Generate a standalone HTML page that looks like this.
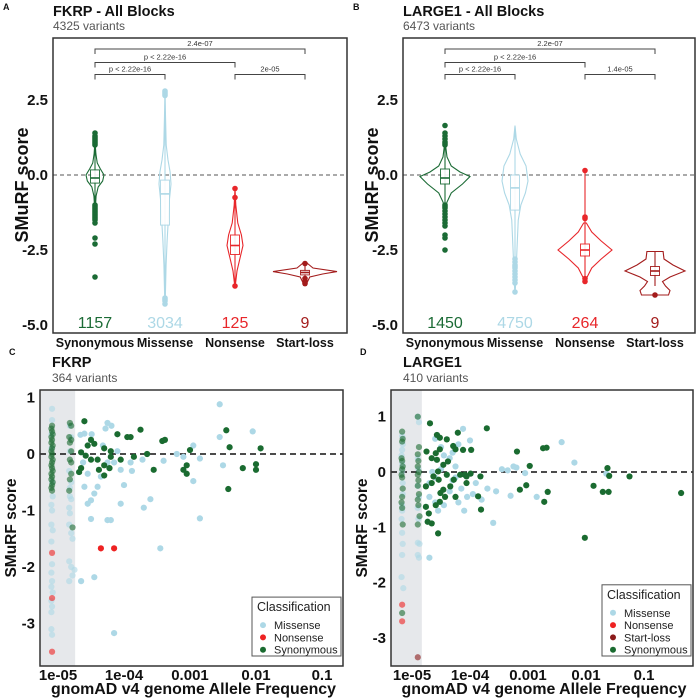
<!DOCTYPE html>
<html><head><meta charset="utf-8"><style>
html,body{margin:0;padding:0;background:#fff;}
svg{display:block;font-family:"Liberation Sans",sans-serif;}
</style></head><body>
<svg id="fig" width="697" height="700" viewBox="0 0 697 700" xmlns="http://www.w3.org/2000/svg"></svg>
<script>
// ---------- DATA ----------
const categories = ["Synonymous","Missense","Nonsense","Start-loss"];
const catColors = ["#1b6b35","#add8e6","#e8262a","#a31c1c"];
const yTicksViolin = [2.5, 0.0, -2.5, -5.0];
const yTickLabelsViolin = ["2.5","0.0","-2.5","-5.0"];
const countsA = [1157, 3034, 125, 9];
const countsB = [1450, 4750, 264, 9];
const bracketPairs = [[0,3],[0,2],[0,1],[2,3]];
const bracketLevels = [4.2, 3.75, 3.35, 3.35];
const bracketLabelsA = ["2.4e-07","p < 2.22e-16","p < 2.22e-16","2e-05"];
const bracketLabelsB = ["2.2e-07","p < 2.22e-16","p < 2.22e-16","1.4e-05"];
// violin density profiles [score, relative density]
const violinA = [
 [[1.0,0.03],[0.7,0.1],[0.4,0.25],[0.2,0.6],[0.0,1],[-0.2,0.85],[-0.4,0.35],[-0.7,0.12],[-1.15,0.03]],
 [[2.8,0],[2.0,0.08],[1.0,0.2],[0.5,0.5],[0.1,0.85],[-0.3,1],[-0.8,0.75],[-1.5,0.55],[-2.2,0.35],[-3.0,0.18],[-4.3,0.03]],
 [[-0.45,0],[-1.0,0.1],[-1.6,0.35],[-2.0,0.8],[-2.35,1],[-2.8,0.6],[-3.2,0.25],[-3.7,0.03]],
 [[-2.95,0.08],[-3.1,0.25],[-3.22,1],[-3.3,0.55],[-3.4,0.15],[-3.6,0.06]]
];
const violinMaxA = [9, 6, 8, 32];
const violinB = [
 [[1.0,0.02],[0.6,0.08],[0.3,0.25],[0.1,0.6],[-0.05,1],[-0.3,0.7],[-0.6,0.25],[-0.9,0.08],[-1.1,0.02]],
 [[1.65,0],[1.2,0.1],[0.7,0.4],[0.3,0.85],[-0.2,1],[-0.6,0.8],[-1.0,0.45],[-1.5,0.25],[-2.0,0.2],[-2.5,0.15],[-3.0,0.1],[-3.9,0.02]],
 [[-1.6,0.05],[-1.9,0.25],[-2.2,0.6],[-2.5,1],[-2.8,0.6],[-3.1,0.25],[-3.4,0.08],[-3.55,0.02]],
 [[-2.55,0.27],[-2.8,0.3],[-3.0,0.6],[-3.2,1],[-3.4,0.5],[-3.55,0.25],[-3.7,0.35],[-3.85,0.5],[-4.0,0.45]]
];
const violinMaxB = [25, 13, 27, 30];
// box stats [q1, median, q3, whiskerLow, whiskerHigh]
const boxA = [[-0.27,-0.1,0.17,-1.0,0.95],[-1.67,-0.63,-0.17,-4.1,2.6],[-2.65,-2.35,-2.0,-3.6,-0.8],[-3.33,-3.25,-3.18,-3.45,-2.95]];
const boxB = [[-0.3,-0.1,0.2,-1.0,1.0],[-1.17,-0.43,0.0,-2.8,1.6],[-2.7,-2.5,-2.3,-3.45,0.15],[-3.35,-3.2,-3.05,-3.7,-2.55]];
const outliersA = [
 [1.0,1.05,1.1,1.15,1.2,1.25,1.3,1.4,-1.0,-1.05,-1.1,-1.15,-1.2,-1.25,-1.3,-1.35,-1.4,-1.45,-1.5,-1.6,-2.1,-2.3,-3.4],
 [2.65,2.7,2.75,2.8,-4.1,-4.15,-4.2,-4.3],
 [-0.45,-0.75,-3.7],
 [-2.95,-3.45,-3.55,-3.62]
];
const outliersB = [
 [1.0,1.05,1.1,1.2,1.3,1.4,1.65,-1.0,-1.05,-1.1,-1.2,-1.3,-1.4,-1.5,-1.6,-1.7,-2.0,-2.1,-2.5],
 [-2.8,-2.9,-3.0,-3.05,-3.1,-3.2,-3.3,-3.4,-3.5,-3.6,-3.9],
 [0.15,-1.4,-1.45,-3.45,-3.55],
 [-4.0]
];
// scatter data: [log10 allele frequency, SMuRF score]
const missenseC = [[-2.55,0.88],[-4.66,0.34],[-4.6,0.36],[-4.49,0.35],[-4.28,0.45],[-4.19,0.5],[-4.32,0.15],[-4.1,0.05],[-4.62,-0.15],[-4.55,-0.35],[-4.6,-0.58],[-4.4,-0.58],[-4.45,-0.7],[-4.5,-0.82],[-4.55,-0.88],[-4.25,-0.15],[-4.15,-0.15],[-4.35,-0.4],[-4.05,-0.28],[-4.0,-0.55],[-4.05,-0.88],[-4.25,-1.17],[-4.2,-1.17],[-4.5,-1.15],[-3.9,-0.15],[-3.88,-0.3],[-3.72,-0.1],[-3.7,-0.95],[-3.6,-0.8],[-3.45,-1.67],[-3.4,-0.12],[-3.1,-0.05],[-3.2,0.0],[-2.85,-0.08],[-2.95,-0.48],[-2.85,-1.14],[-2.95,0.15],[-2.55,0.3],[-2.5,-0.2],[-2.05,0.4],[-4.75,-2.05],[-4.65,-2.25],[-4.45,-2.18],[-4.15,-3.17],[-4.25,0.55],
 [-5.09,0.8],[-5.09,0.6],[-5.1,0.35],[-5.08,-0.75],[-5.1,-0.9],[-5.09,-1.0],[-5.1,-1.25],[-5.08,-1.35],[-5.1,-1.55],[-5.09,-1.95],[-5.1,-2.1],[-5.09,-2.25],[-5.1,-2.35],[-5.08,-2.45],[-5.1,-2.6],[-5.09,-2.7],[-5.1,-2.8],[-5.1,-3.1],[-5.09,-3.2],[-5.1,0.1],[-5.09,-0.5],
 [-4.82,0.5],[-4.8,0.3],[-4.82,0.05],[-4.83,-0.3],[-4.8,-0.5],[-4.82,-0.75],[-4.8,-0.8],[-4.83,-0.95],[-4.82,-1.05],[-4.83,-1.25],[-4.8,-1.4],[-4.78,-1.5],[-4.8,-2.0],[-4.78,-2.15],[-4.83,-2.25],[-4.82,-0.6],[-4.83,-1.9]];
const nonsenseC = [[-4.35,-1.67],[-4.15,-1.67],[-5.09,-1.75],[-5.09,-2.55],[-5.09,-3.5]];
const synonymousC = [[-4.6,0.58],[-4.5,0.25],[-4.45,0.18],[-4.55,0.15],[-4.65,0.03],[-4.58,-0.03],[-4.5,-0.1],[-4.68,-0.32],[-4.65,-0.25],[-4.3,0.1],[-4.2,0.05],[-4.4,-0.1],[-4.38,-0.28],[-4.3,-0.2],[-4.3,-0.38],[-4.22,-0.25],[-4.2,-0.05],[-4.1,0.35],[-4.05,-0.1],[-3.9,0.3],[-3.95,0.3],[-3.85,-0.05],[-3.75,0.43],[-3.65,0.0],[-3.55,-0.28],[-3.42,0.23],[-3.38,0.25],[-3.1,-0.28],[-3.05,-0.2],[-3.05,-0.35],[-3.0,0.07],[-2.45,0.42],[-2.4,0.12],[-2.42,-0.62],[-2.2,-0.25],[-2.0,-0.18],[-2.0,-0.28],[-1.93,0.1],
 [-5.09,0.5],[-5.1,0.45],[-5.09,0.4],[-5.08,0.35],[-5.1,0.3],[-5.09,0.25],[-5.1,0.2],[-5.08,0.15],[-5.09,0.1],[-5.1,0.05],[-5.09,0.0],[-5.1,-0.05],[-5.08,-0.1],[-5.09,-0.15],[-5.1,-0.2],[-5.09,-0.25],[-5.08,-0.3],[-5.1,-0.35],[-5.09,-0.4],[-5.1,-0.45],[-5.08,-0.5],[-5.09,-0.55],[-5.1,-0.6],[-5.09,-0.65],
 [-4.82,0.55],[-4.8,0.5],[-4.83,0.3],[-4.8,0.25],[-4.82,0.2],[-4.8,0.05],[-4.82,-0.1],[-4.8,-0.35],[-4.82,-0.45],[-4.83,-0.65],[-4.78,-1.3],[-4.8,-0.15]];
const missenseD = [[-4.6,0.6],[-4.5,0.45],[-4.45,0.3],[-4.35,0.25],[-4.3,0.35],[-4.2,0.5],[-4.12,0.78],[-4.0,0.57],[-4.5,0.05],[-4.6,-0.1],[-4.7,-0.2],[-4.7,-0.45],[-4.6,-0.55],[-4.55,-0.7],[-4.45,-0.6],[-4.35,-0.35],[-4.3,-0.15],[-4.2,-0.55],[-4.1,-0.7],[-4.25,-0.1],[-4.15,-0.3],[-4.05,-0.45],[-3.95,-0.4],[-3.9,-0.2],[-3.8,-0.5],[-3.7,-0.3],[-3.6,-0.92],[-3.55,-0.35],[-3.45,0.05],[-3.3,-0.43],[-3.35,0.03],[-3.25,0.1],[-3.2,0.08],[-3.05,-0.02],[-2.85,-0.45],[-2.42,0.54],[-2.2,0.17],[-1.65,-0.03],[-4.7,-1.55],[-4.65,0.0],[-4.25,0.1],
 [-5.17,0.65],[-5.16,0.5],[-5.17,0.4],[-5.18,0.3],[-5.17,0.0],[-5.16,-0.2],[-5.17,-0.6],[-5.18,-0.85],[-5.17,-1.1],[-5.16,-1.3],[-5.17,-1.5],[-5.18,-1.9],[-5.15,-2.1],[-5.17,0.15],[-5.16,-0.4],[-5.17,-0.7],
 [-4.9,1.0],[-4.88,0.9],[-4.9,0.25],[-4.89,0.05],[-4.9,-0.25],[-4.88,-0.45],[-4.9,-0.65],[-4.89,-0.85],[-4.9,-1.28],[-4.87,-1.3],[-4.9,-1.5],[-4.88,-1.55]];
const nonsenseD = [[-5.17,-2.4],[-5.17,-2.7]];
const startlossD = [[-4.9,-3.35]];
const synonymousD = [[-4.69,0.88],[-4.57,0.67],[-4.52,0.62],[-4.40,0.59],[-4.21,0.71],[-3.71,0.79],[-4.75,0.37],[-4.66,0.25],[-4.59,0.34],[-4.57,0.22],[-4.52,0.41],[-4.46,0.13],[-4.38,0.19],[-4.29,0.47],[-4.25,0.41],[-4.12,0.40],[-3.98,0.40],[-4.76,-0.26],[-4.66,-0.20],[-4.63,-0.08],[-4.55,0.01],[-4.54,-0.14],[-4.46,-0.32],[-4.40,-0.05],[-4.34,-0.26],[-4.28,-0.14],[-4.25,-0.45],[-4.17,-0.05],[-4.09,-0.05],[-4.06,-0.08],[-3.99,-0.03],[-4.06,-0.20],[-4.51,-0.38],[-4.43,-0.45],[-4.76,-0.63],[-4.71,-0.75],[-4.73,-0.90],[-4.66,-0.93],[-4.59,-0.60],[-4.52,-0.54],[-4.55,-1.11],[-3.86,-0.44],[-3.81,-0.68],[-3.82,-0.08],[-3.19,0.37],[-3.14,-0.32],[-3.03,-0.24],[-2.97,0.11],[-2.74,0.43],[-2.68,0.44],[-2.72,-0.54],[-2.66,-0.36],[-2.02,-1.19],[-1.87,-0.25],[-1.71,-0.36],[-1.63,0.07],[-1.60,-0.07],[-1.61,-0.36],[-1.25,-0.08],[-0.36,-0.38],
 [-5.17,0.73],[-5.16,0.6],[-5.17,0.55],[-5.18,0.25],[-5.17,0.2],[-5.16,0.1],[-5.17,0.05],[-5.18,-0.05],[-5.17,-0.1],[-5.16,-0.3],[-5.17,-0.45],[-5.18,-0.55],[-5.17,-0.65],[-5.16,-0.95],[-5.17,-2.55],
 [-4.9,1.0],[-4.88,0.45],[-4.9,0.32],[-4.89,0.2],[-4.9,0.1],[-4.88,0.0],[-4.9,-0.05],[-4.89,-0.15],[-4.9,-0.25],[-4.88,-0.4],[-4.9,-0.5],[-4.89,-0.6],[-4.87,-0.8],[-4.9,-0.95]];
const xTickLogs = [-5,-4,-3,-2,-1];
const xTickLabels = ["1e-05","1e-04","0.001","0.01","0.1"];
const yTicksC = [1,0,-1,-2,-3];
const yTicksD = [1,0,-1,-2,-3];

// ---------- HELPERS ----------
const svg = document.getElementById('fig');
const NS = "http://www.w3.org/2000/svg";
function mk(tag, attrs, parent, text){
  const e = document.createElementNS(NS, tag);
  for (const k in attrs) e.setAttribute(k, attrs[k]);
  if (text !== undefined) e.textContent = text;
  (parent || svg).appendChild(e);
  return e;
}
function txt(x,y,s,size,opts,parent){
  const o = Object.assign({x:x,y:y,'font-size':size,fill:'#111'}, opts||{});
  return mk('text', o, parent, s);
}

// ---------- VIOLIN PANELS ----------
function violinPanel(cfg){
  const g = mk('g',{});
  
  
  const L=cfg.left, R=cfg.right, T=38, B=333;
  const y = v => 175 - 30*(v);
  const x = i => cfg.left + 42 + i*70;
  const t1 = txt(cfg.left-50, 10, cfg.letter, 9, {'font-weight':'bold'}, g);
   
  const t2 = txt(L, 16, cfg.title, 14.5, {'font-weight':'bold'}, g);
   
  const t3 = txt(L, 30, cfg.subtitle, 12, {fill:'#555'}, g);
   
  // zero line
  const zl = mk('line',{x1:L,x2:R,y1:y(0),y2:y(0),stroke:'#777','stroke-width':1.2,'stroke-dasharray':'4,3'},g);
   
  // y ticks
  yTicksViolin.forEach((v,i)=>{
    const t = txt(L-5, y(v)+5, yTickLabelsViolin[i], 15, {'font-weight':'bold','text-anchor':'end'}, g);
     
  });
  const yt = txt(0,0,'SMuRF score',18,{'font-weight':'bold','text-anchor':'middle',transform:`translate(${L-25},185) rotate(-90)`},g);
   
  // brackets
  bracketPairs.forEach((p,i)=>{
    const yy = y(bracketLevels[i]);
    const x1 = x(p[0]), x2 = x(p[1]);
    const br = mk('path',{d:`M${x1},${yy+5}V${yy}H${x2}V${yy+5}`,fill:'none',stroke:'#444','stroke-width':1},g);
     
    const bl = txt((x1+x2)/2, yy-3, cfg.brLabels[i], 7.5, {'text-anchor':'middle',fill:'#333'}, g);
     
  });
  categories.forEach((c,i)=>{
    const col = catColors[i], cx = x(i);
    const prof = cfg.violin[i], mx = cfg.vmax[i];
    let d = '';
    prof.forEach((p,j)=>{ d += (j?'L':'M') + (cx + p[1]*mx) + ',' + y(p[0]); });
    for (let j=prof.length-1;j>=0;j--) d += 'L' + (cx - prof[j][1]*mx) + ',' + y(prof[j][0]);
    d += 'Z';
    const vg = mk('g',{},g);
    
    
    mk('path',{d:d,fill:'none',stroke:col,'stroke-width':1.1},vg);
    const b = cfg.box[i];
    mk('line',{x1:cx,x2:cx,y1:y(b[4]),y2:y(b[3]),stroke:col,'stroke-width':1.1},vg);
    mk('rect',{x:cx-4.5,y:y(b[2]),width:9,height:Math.max(1,y(b[0])-y(b[2])),fill:'#fff',stroke:col,'stroke-width':1,opacity:0.9},vg);
    mk('line',{x1:cx-4.5,x2:cx+4.5,y1:y(b[1]),y2:y(b[1]),stroke:col,'stroke-width':1.6},vg);
    cfg.outliers[i].forEach(v=>{
      const o = mk('circle',{cx:cx,cy:y(v),r:2.8,fill:col},vg);
       
    });
    const ct = txt(cx, 328, String(cfg.counts[i]), 16, {'text-anchor':'middle',fill:col}, g);
     
    const cl = txt(cx, 347, c, 12.5, {'text-anchor':'middle','font-weight':'bold'}, g);
     
  });
  const fr = mk('rect',{x:L,y:T,width:R-L,height:B-T,fill:'none',stroke:'#333','stroke-width':1.5},g);
   
}
violinPanel({name:'panel-a-fkrp-violin',letter:'A',title:'FKRP - All Blocks',subtitle:'4325 variants',left:53,right:347,violin:violinA,vmax:violinMaxA,box:boxA,outliers:outliersA,counts:countsA,brLabels:bracketLabelsA});
violinPanel({name:'panel-b-large1-violin',letter:'B',title:'LARGE1 - All Blocks',subtitle:'6473 variants',left:403,right:695,violin:violinB,vmax:violinMaxB,box:boxB,outliers:outliersB,counts:countsB,brLabels:bracketLabelsB});

// ---------- SCATTER PANELS ----------
function scatterPanel(cfg){
  const g = mk('g',{});
  
  
  const L=cfg.left, R=cfg.right, T=390, B=666;
  const x = lg => cfg.x0 + cfg.dec*(lg + 5);
  const y = v => cfg.y0 - cfg.unit*v;
  const t1 = txt(L-31, 355, cfg.letter, 9, {'font-weight':'bold'}, g);
   
  const t2 = txt(L+12, 367, cfg.title, 14.5, {'font-weight':'bold'}, g);
   
  const t3 = txt(L+12, 382, cfg.subtitle, 12, {fill:'#555'}, g);
   
  const band = mk('rect',{x:L,y:T,width:x(cfg.bandLog)-L,height:B-T,fill:'#e6e8eb'},g);
   
  const zl = mk('line',{x1:L,x2:R,y1:y(0),y2:y(0),stroke:'#111','stroke-width':1.4,'stroke-dasharray':'6,4'},g);
   
  cfg.series.forEach(s=>{
    const sg = mk('g',{},g);
    
    
    s.data.forEach(p=>{
      const c = mk('circle',{cx:x(p[0]),cy:y(p[1]),r:3.1,fill:s.color,opacity:(p[0]<cfg.bandLog?0.6:1)},sg);
       
    });
  });
  cfg.yTicks.forEach(v=>{
    const t = txt(L-5, y(v)+5, String(v), 15, {'font-weight':'bold','text-anchor':'end'}, g);
     
  });
  xTickLogs.forEach((lg,i)=>{
    const t = txt(x(lg), 680, xTickLabels[i], 15, {'font-weight':'bold','text-anchor':'middle'}, g);
     
  });
  const xt = txt((L+R)/2+2, 694, 'gnomAD v4 genome Allele Frequency', 15.5, {'font-weight':'bold','text-anchor':'middle',textLength:285,lengthAdjust:'spacingAndGlyphs'}, g);
   
  const yt = txt(0,0,'SMuRF score',15.5,{'font-weight':'bold','text-anchor':'middle',transform:`translate(${L-24},528) rotate(-90)`},g);
   
  const fr = mk('rect',{x:L,y:T,width:R-L,height:B-T,fill:'none',stroke:'#333','stroke-width':1.5},g);
   
  // legend
  const lg = mk('g',{},g);
  
  
  const n = cfg.series.length;
  const lh = 22 + n*12.3;
  mk('rect',{x:cfg.legX,y:B-10-lh,width:R-2-cfg.legX,height:lh,fill:'#fff',stroke:'#555','stroke-width':1},lg);
  const lt = txt(cfg.legX+5, B-10-lh+14, 'Classification', 12.5, {fill:'#222'}, lg);
   
  cfg.legendOrder.forEach((s,i)=>{
    const yy = B-10-lh+28+i*12.3;
    const e = mk('g',{},lg);
    
    
    mk('circle',{cx:cfg.legX+11,cy:yy,r:3,fill:s.color},e);
    txt(cfg.legX+22, yy+4, s.label, 11, {fill:'#222'}, e);
  });
}
const sMisC={label:'Missense',color:'#add8e6',data:missenseC};
const sNonC={label:'Nonsense',color:'#ee2222',data:nonsenseC};
const sSynC={label:'Synonymous',color:'#1a6b30',data:synonymousC};
scatterPanel({name:'panel-c-fkrp-scatter',letter:'C',title:'FKRP',subtitle:'364 variants',left:40,right:343,x0:58,dec:66,y0:454,unit:56.5,bandLog:-4.74,yTicks:yTicksC,legX:252,
  series:[sMisC,sSynC,sNonC],legendOrder:[sMisC,sNonC,sSynC]});
const sMisD={label:'Missense',color:'#add8e6',data:missenseD};
const sNonD={label:'Nonsense',color:'#ee2222',data:nonsenseD};
const sStD={label:'Start-loss',color:'#8b1a1a',data:startlossD};
const sSynD={label:'Synonymous',color:'#1a6b30',data:synonymousD};
scatterPanel({name:'panel-d-large1-scatter',letter:'D',title:'LARGE1',subtitle:'410 variants',left:391,right:693,x0:412,dec:58,y0:472,unit:55.3,bandLog:-4.83,yTicks:yTicksD,legX:602,
  series:[sMisD,sSynD,sNonD,sStD],legendOrder:[sMisD,sNonD,sStD,sSynD]});
</script>
</body></html>
